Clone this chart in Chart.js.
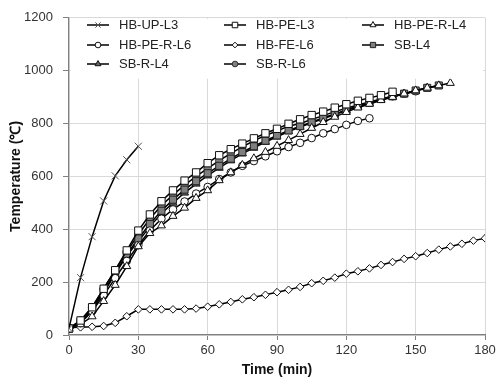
<!DOCTYPE html>
<html>
<head>
<meta charset="utf-8">
<script src="https://cdn.jsdelivr.net/npm/chart.js@4/dist/chart.umd.min.js"></script>
<style>
  html, body { margin: 0; padding: 0; background: #fff; }
  #wrap { width: 500px; height: 387px; }
</style>
</head>
<body>
<div id="wrap"><canvas id="chart" width="500" height="387"></canvas></div>
<script>
/* fire test curves: temperature vs time */

const TIME = [0, 5, 10, 15, 20, 25, 30, 35, 40, 45, 50, 55, 60, 65, 70, 75, 80, 85, 90,
  95, 100, 105, 110, 115, 120, 125, 130, 135, 140, 145, 150, 155, 160, 165, 170, 175, 180];

const X_TICKS = [0, 30, 60, 90, 120, 150, 180];
const Y_TICKS = [0, 200, 400, 600, 800, 1000, 1200];

const LABELS = ["HB-UP-L3", "HB-PE-L3", "HB-PE-R-L4", "HB-PE-R-L6", "HB-FE-L6", "SB-L4", "SB-R-L4", "SB-R-L6"];

const HB_UP_L3 = [25, 217, 372, 507, 602, 663, 714];
const HB_PE_L3 = [25, 55, 105, 175, 245, 320, 395, 456, 506, 547, 584, 615, 650, 680, 703,
  724, 744, 763, 780, 799, 816, 832, 845, 860, 873, 886, 897, 907, 920];
const HB_PE_R_L4 = [20, 40, 70, 128, 189, 260, 335, 385, 414, 450, 481, 518, 547, 585, 615,
  643, 668, 692, 715, 737, 760, 783, 805, 825, 843, 860, 874, 888, 900, 913, 925, 935, 944, 953];
const HB_PE_R_L6 = [25, 45, 90, 150, 215, 280, 340, 395, 440, 475, 505, 535, 560, 590, 615,
  640, 658, 676, 695, 711, 727, 745, 763, 779, 795, 810, 820];
const HB_FE_L6 = [28, 29, 31, 34, 46, 71, 97, 97, 97, 97, 97, 100, 107, 116, 125, 135, 143,
  152, 162, 171, 182, 196, 205, 217, 232, 241, 252, 265, 276, 288, 298, 310, 323, 335, 345, 357, 366];
const SB_L4 = [25, 50, 100, 165, 235, 305, 365, 420, 470, 512, 550, 582, 612, 640, 667, 692,
  714, 735, 755, 774, 790, 805, 822, 836, 851, 866, 878, 893, 903, 913, 925, 935, 944];
const SB_R_L4 = [25, 45, 95, 160, 230, 300, 355, 410, 460, 500, 538, 572, 603, 632, 660, 686,
  708, 730, 750, 770, 787, 803, 818, 834, 849, 863, 877, 890, 901, 912, 923, 934, 943];
const SB_R_L6 = [25, 55, 105, 175, 245, 315, 380, 440, 490, 530, 567, 600, 630, 660, 687, 712,
  735, 755, 772, 790, 800, 815, 830, 845, 858, 870, 882, 893, 903, 913, 922];

const SERIES = [HB_UP_L3, HB_PE_L3, HB_PE_R_L4, HB_PE_R_L6, HB_FE_L6, SB_L4, SB_R_L4, SB_R_L6];

// marker look for each series
const STYLES = [
  { pointStyle: "crossRot", radius: 5, fill: "#fff", stroke: "#555" },
  { pointStyle: "rect", radius: 5.2, fill: "#fff", stroke: "#111" },
  { pointStyle: "triangle", radius: 4.6, fill: "#fff", stroke: "#111" },
  { pointStyle: "circle", radius: 3.8, fill: "#fff", stroke: "#111" },
  { pointStyle: "rectRot", radius: 3.8, fill: "#fff", stroke: "#111" },
  { pointStyle: "rect", radius: 5, fill: "#7f7f7f", stroke: "#222" },
  { pointStyle: "triangle", radius: 4.6, fill: "#666", stroke: "#111" },
  { pointStyle: "circle", radius: 3.8, fill: "#808080", stroke: "#333" },
];

const toPoints = (vals) => vals.map((v, i) => ({ x: TIME[i], y: v }));

const datasets = SERIES.map((vals, i) => ({
  label: LABELS[i],
  data: toPoints(vals),
  borderColor: "#000",
  borderWidth: 1.5,
  pointStyle: STYLES[i].pointStyle,
  pointRadius: STYLES[i].radius,
  pointBackgroundColor: STYLES[i].fill,
  pointBorderColor: STYLES[i].stroke,
  pointBorderWidth: 1,
  tension: 0,
}));

/* ── legend in a 3-column grid inside the plot ───────── */
const LEGEND_COLS = [87, 224, 362];
const LEGEND_ROWS = [25, 45, 64];

const gridLegend = {
  id: "gridLegend",
  afterDatasetsDraw(chart) {
    const ctx = chart.ctx;
    const area = chart.chartArea;
    ctx.save();
    ctx.fillStyle = "#fff";
    ctx.fillRect(area.left + 2, area.top + 1, area.right - area.left - 4, 60);
    ctx.font = "13px 'Liberation Sans', Arial, sans-serif";
    ctx.textBaseline = "middle";
    chart.data.datasets.forEach((ds, i) => {
      const x = LEGEND_COLS[i % 3];
      const y = LEGEND_ROWS[Math.floor(i / 3)];
      ctx.strokeStyle = "#000";
      ctx.lineWidth = 1.5;
      ctx.beginPath();
      ctx.moveTo(x, y);
      ctx.lineTo(x + 22, y);
      ctx.stroke();
      ctx.fillStyle = ds.pointBackgroundColor;
      ctx.strokeStyle = ds.pointBorderColor;
      ctx.lineWidth = 1;
      Chart.helpers.drawPoint(ctx, {
        pointStyle: ds.pointStyle,
        radius: ds.pointRadius * 0.75,
        rotation: 0,
        borderWidth: 1,
      }, x + 11, y);
      ctx.fillStyle = "#222";
      ctx.fillText(ds.label, x + 32, y);
    });
    ctx.restore();
  },
};

const tickFont = { size: 13, family: "'Liberation Sans', Arial" };
const titleFont = { size: 14, weight: "bold", family: "'Liberation Sans', Arial" };

new Chart(document.getElementById("chart"), {
  type: "line",
  data: { datasets },
  plugins: [gridLegend],
  options: {
    responsive: false,
    animation: false,
    layout: { padding: { top: 13, right: 15, left: 0, bottom: 0 } },
    plugins: { legend: { display: false }, tooltip: { enabled: false } },
    scales: {
      x: {
        type: "linear",
        min: 0, max: 180,
        afterFit: (s) => { s.height = 52; },
        afterBuildTicks: (s) => { s.ticks = X_TICKS.map((v) => ({ value: v })); },
        ticks: { color: "#333", font: tickFont, padding: 3, maxRotation: 0, callback: (v) => String(v) },
        grid: { color: "#d9d9d9", tickColor: "#808080", tickLength: 5 },
        border: { color: "#808080", width: 1.2 },
        title: {
          display: true, text: "Time (min)", color: "#111", font: titleFont,
          padding: { top: 2, bottom: 8 },
        },
      },
      y: {
        min: 0, max: 1200,
        afterFit: (s) => { s.width = 69; },
        afterBuildTicks: (s) => { s.ticks = Y_TICKS.map((v) => ({ value: v })); },
        ticks: { color: "#333", font: tickFont, padding: 10, callback: (v) => String(v) },
        grid: { color: "#d9d9d9", tickColor: "#808080", tickLength: 6 },
        border: { color: "#808080", width: 1.2 },
        title: {
          display: true, text: "Temperature (℃)", color: "#111", font: titleFont,
          padding: { top: 8, bottom: 0 },
        },
      },
    },
  },
});
</script>
</body>
</html>
